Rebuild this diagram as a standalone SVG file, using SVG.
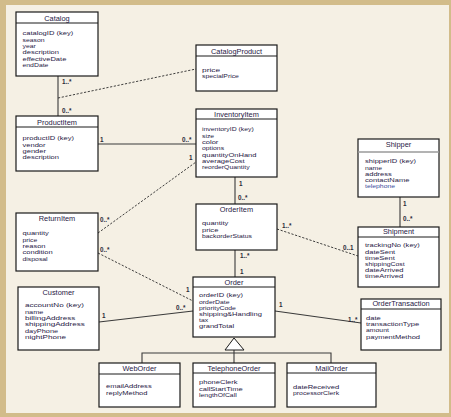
<svg xmlns="http://www.w3.org/2000/svg" width="451" height="417" viewBox="0 0 451 417">
<style>
.box{fill:#fff;stroke:#1a1a1a;stroke-width:1.2}
.sep{stroke:#1a1a1a;stroke-width:1}
.t{font-family:"Liberation Sans",Arial,sans-serif;font-size:7.4px;fill:#1f2045;text-anchor:middle}
.a{font-family:"Liberation Sans",Arial,sans-serif;font-size:5.4px;fill:#1f2045}
.s{font-size:4.9px}
.l{font-family:"Liberation Sans",Arial,sans-serif;font-size:6.3px;font-weight:bold;fill:#2a2a3a}
.c{stroke:#3a3a3a;stroke-width:1.1;fill:none}
.d{stroke:#2a2a2a;stroke-width:0.9;fill:none;stroke-dasharray:2.2,1.6}
</style>
<rect x="0" y="0" width="451" height="417" fill="#d2bc8a"/>
<rect x="6" y="5" width="443" height="408" fill="#f5f0e4"/>

<g id="connectors">
<line class="c" x1="58" y1="76" x2="58" y2="116"/>
<line class="d" x1="58" y1="98" x2="196" y2="69"/>
<line class="c" x1="98" y1="144" x2="196" y2="144"/>
<line class="d" x1="98" y1="233" x2="196" y2="162"/>
<line class="d" x1="98" y1="253" x2="193" y2="301"/>
<line class="c" x1="99" y1="322" x2="193" y2="311"/>
<line class="c" x1="235" y1="177" x2="235" y2="204"/>
<line class="c" x1="235" y1="250" x2="235" y2="277"/>
<line class="d" x1="277" y1="229" x2="358" y2="256"/>
<line class="c" x1="400" y1="197" x2="400" y2="227"/>
<line class="c" x1="275" y1="311" x2="361" y2="323"/>
<polyline class="c" points="142,363 142,353 331,353 331,363"/>
<line class="c" x1="234" y1="350" x2="234" y2="363"/>
<polygon points="234,338 225,350 244,350" fill="#fff" stroke="#1a1a1a" stroke-width="1"/>
<text class="l" x="62" y="84">1..*</text>
<text class="l" x="62" y="113">0..*</text>
<text class="l" x="100" y="142">1</text>
<text class="l" x="182" y="142">0..*</text>
<text class="l" x="189" y="160">1</text>
<text class="l" x="100" y="221.5">0..*</text>
<text class="l" x="100" y="251.5">0..*</text>
<text class="l" x="186" y="292">1</text>
<text class="l" x="102" y="318">1</text>
<text class="l" x="176" y="310">0..*</text>
<text class="l" x="239" y="186">1</text>
<text class="l" x="238" y="200">0..*</text>
<text class="l" x="240" y="258">1..*</text>
<text class="l" x="240" y="274">1</text>
<text class="l" x="282" y="228">1..*</text>
<text class="l" x="343" y="250">0..1</text>
<text class="l" x="403" y="206">1</text>
<text class="l" x="403" y="221">0..*</text>
<text class="l" x="279" y="307">1</text>
<text class="l" x="348" y="322">1..*</text>
</g>

<g id="Catalog">
<rect class="box" x="16" y="12" width="82" height="64"/>
<line class="sep" x1="16" y1="23" x2="98" y2="23"/>
<text class="t" x="57" y="20.5">Catalog</text>
<g class="a" transform="matrix(1.4,0,0,1,22.5,0)">
<text x="0" y="35.5">catalogID (key)</text>
<text class="s" x="0" y="41.8">season</text>
<text class="s" x="0" y="48.1">year</text>
<text x="0" y="54.4">description</text>
<text x="0" y="60.7">effectiveDate</text>
<text class="s" x="0" y="67">endDate</text>
</g>
</g>

<g id="CatalogProduct">
<rect class="box" x="196" y="45" width="81" height="46"/>
<line class="sep" x1="196" y1="56" x2="277" y2="56"/>
<text class="t" x="236.5" y="53.5">CatalogProduct</text>
<g class="a" transform="matrix(1.4,0,0,1,202,0)">
<text x="0" y="72.5" style="font-size:6px">price</text>
<text class="s" x="0" y="78.5">specialPrice</text>
</g>
</g>

<g id="ProductItem">
<rect class="box" x="16" y="116" width="82" height="55"/>
<line class="sep" x1="16" y1="127" x2="98" y2="127"/>
<text class="t" x="57" y="124.5">ProductItem</text>
<g class="a" transform="matrix(1.4,0,0,1,22.5,0)">
<text x="0" y="140.5">productID (key)</text>
<text x="0" y="146.8">vendor</text>
<text x="0" y="153.1">gender</text>
<text x="0" y="159.4">description</text>
</g>
</g>

<g id="InventoryItem">
<rect class="box" x="196" y="109" width="81" height="68"/>
<line class="sep" x1="196" y1="119" x2="277" y2="119"/>
<text class="t" x="236.5" y="116.5">InventoryItem</text>
<g class="a" transform="matrix(1.4,0,0,1,202,0)">
<text class="s" x="0" y="131.5">inventoryID (key)</text>
<text class="s" x="0" y="137.8">size</text>
<text x="0" y="144.1">color</text>
<text class="s" x="0" y="150.4">options</text>
<text x="0" y="156.7">quantityOnHand</text>
<text x="0" y="163">averageCost</text>
<text class="s" x="0" y="169.3">reorderQuantity</text>
</g>
</g>

<g id="ReturnItem">
<rect class="box" x="16" y="213" width="82" height="58"/>
<text class="t" x="57" y="220.5">ReturnItem</text>
<g class="a" transform="matrix(1.4,0,0,1,22.5,0)">
<text x="0" y="235.5">quantity</text>
<text class="s" x="0" y="241.8">price</text>
<text x="0" y="248.1">reason</text>
<text x="0" y="254.4">condition</text>
<text class="s" x="0" y="260.7">disposal</text>
</g>
</g>

<g id="OrderItem">
<rect class="box" x="196" y="204" width="81" height="46"/>
<text class="t" x="236.5" y="211.5">OrderItem</text>
<g class="a" transform="matrix(1.4,0,0,1,202,0)">
<text x="0" y="225.5">quantity</text>
<text x="0" y="232">price</text>
<text class="s" x="0" y="238.5">backorderStatus</text>
</g>
</g>

<g id="Shipper">
<rect class="box" x="358" y="139" width="81" height="58"/>
<line x1="358" y1="152" x2="439" y2="152" stroke="#9a9a9a" stroke-width="1.6"/>
<text class="t" x="398.5" y="146.5">Shipper</text>
<g class="a" transform="matrix(1.4,0,0,1,365,0)">
<text x="0" y="163.5">shipperID (key)</text>
<text class="s" x="0" y="169.6">name</text>
<text x="0" y="175.7">address</text>
<text x="0" y="181.8">contactName</text>
<text class="s" x="0" y="187.9" style="fill:#3a4a9a">telephone</text>
</g>
</g>

<g id="Shipment">
<rect class="box" x="358" y="227" width="81" height="60"/>
<line class="sep" x1="358" y1="237" x2="439" y2="237"/>
<text class="t" x="398.5" y="233.5">Shipment</text>
<g class="a" transform="matrix(1.4,0,0,1,365,0)">
<text x="0" y="247.5">trackingNo (key)</text>
<text x="0" y="253.7">dateSent</text>
<text x="0" y="259.9">timeSent</text>
<text class="s" x="0" y="266.1">shippingCost</text>
<text x="0" y="272.3">dateArrived</text>
<text x="0" y="278.5">timeArrived</text>
</g>
</g>

<g id="Order">
<rect class="box" x="193" y="277" width="82" height="60"/>
<line class="sep" x1="193" y1="287" x2="275" y2="287"/>
<text class="t" x="234" y="284.5">Order</text>
<g class="a" transform="matrix(1.4,0,0,1,199,0)">
<text x="0" y="297.5">orderID (key)</text>
<text class="s" x="0" y="303.7">orderDate</text>
<text class="s" x="0" y="309.9">priorityCode</text>
<text x="0" y="316.1">shipping&amp;Handling</text>
<text class="s" x="0" y="322.3">tax</text>
<text x="0" y="328.5">grandTotal</text>
</g>
</g>

<g id="Customer">
<rect class="box" x="18" y="287" width="81" height="63"/>
<text class="t" x="58.5" y="294.5">Customer</text>
<g class="a" transform="matrix(1.5,0,0,1,25,0)">
<text x="0" y="307.5">accountNo (key)</text>
<text class="s" x="0" y="313.8">name</text>
<text x="0" y="320.1">billingAddress</text>
<text x="0" y="326.4">shippingAddress</text>
<text class="s" x="0" y="332.7">dayPhone</text>
<text x="0" y="339">nightPhone</text>
</g>
</g>

<g id="OrderTransaction">
<rect class="box" x="361" y="299" width="80" height="51"/>
<line class="sep" x1="361" y1="309" x2="441" y2="309"/>
<text class="t" x="401" y="306">OrderTransaction</text>
<g class="a" transform="matrix(1.4,0,0,1,366,0)">
<text x="0" y="320.5">date</text>
<text x="0" y="326.5">transactionType</text>
<text class="s" x="0" y="332.5">amount</text>
<text x="0" y="339">paymentMethod</text>
</g>
</g>

<g id="WebOrder">
<rect class="box" x="99" y="363" width="81" height="44"/>
<line class="sep" x1="99" y1="374" x2="180" y2="374"/>
<text class="t" x="139.5" y="370.5">WebOrder</text>
<g class="a" transform="matrix(1.4,0,0,1,106,0)">
<text x="0" y="388.5">emailAddress</text>
<text x="0" y="395">replyMethod</text>
</g>
</g>

<g id="TelephoneOrder">
<rect class="box" x="193" y="363" width="82" height="44"/>
<line class="sep" x1="193" y1="373" x2="275" y2="373"/>
<text class="t" x="234" y="370.5">TelephoneOrder</text>
<g class="a" transform="matrix(1.4,0,0,1,199,0)">
<text x="0" y="384.5">phoneClerk</text>
<text x="0" y="391">callStartTime</text>
<text class="s" x="0" y="397">lengthOfCall</text>
</g>
</g>

<g id="MailOrder">
<rect class="box" x="287" y="363" width="89" height="44"/>
<line class="sep" x1="287" y1="373" x2="376" y2="373"/>
<text class="t" x="331.5" y="370.5">MailOrder</text>
<g class="a" transform="matrix(1.4,0,0,1,293,0)">
<text x="0" y="389">dateReceived</text>
<text class="s" x="0" y="395">processorClerk</text>
</g>
</g>
</svg>
